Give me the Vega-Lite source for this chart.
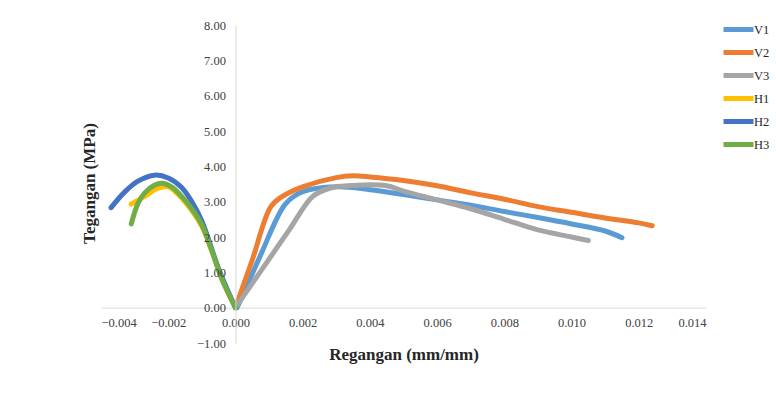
{
  "$schema": "https://vega.github.io/schema/vega-lite/v6.json",
  "width": 605,
  "height": 318,
  "autosize": {"type": "none"},
  "padding": {"left": 101, "top": 25, "right": 70, "bottom": 50},
  "background": "white",
  "config": {
    "view": {"stroke": null},
    "font": "Liberation Serif"
  },
  "data": {
    "values": [
      {"s": "V1", "x": 0.00005, "y": 0},
      {"s": "V1", "x": 0.0008, "y": 1.6},
      {"s": "V1", "x": 0.0012, "y": 2.46},
      {"s": "V1", "x": 0.0015, "y": 2.95},
      {"s": "V1", "x": 0.002, "y": 3.28},
      {"s": "V1", "x": 0.003, "y": 3.42},
      {"s": "V1", "x": 0.004, "y": 3.34},
      {"s": "V1", "x": 0.005, "y": 3.2},
      {"s": "V1", "x": 0.006, "y": 3.05},
      {"s": "V1", "x": 0.007, "y": 2.9},
      {"s": "V1", "x": 0.008, "y": 2.72},
      {"s": "V1", "x": 0.009, "y": 2.55},
      {"s": "V1", "x": 0.010, "y": 2.37},
      {"s": "V1", "x": 0.011, "y": 2.17},
      {"s": "V1", "x": 0.0115, "y": 1.98},
      {"s": "V2", "x": 0, "y": 0},
      {"s": "V2", "x": 0.0005, "y": 1.35},
      {"s": "V2", "x": 0.00105, "y": 2.85},
      {"s": "V2", "x": 0.0014, "y": 3.15},
      {"s": "V2", "x": 0.002, "y": 3.42},
      {"s": "V2", "x": 0.003, "y": 3.68},
      {"s": "V2", "x": 0.0035, "y": 3.73},
      {"s": "V2", "x": 0.004, "y": 3.7},
      {"s": "V2", "x": 0.005, "y": 3.6},
      {"s": "V2", "x": 0.006, "y": 3.45},
      {"s": "V2", "x": 0.007, "y": 3.25},
      {"s": "V2", "x": 0.008, "y": 3.07},
      {"s": "V2", "x": 0.009, "y": 2.86},
      {"s": "V2", "x": 0.010, "y": 2.7},
      {"s": "V2", "x": 0.011, "y": 2.54},
      {"s": "V2", "x": 0.012, "y": 2.4},
      {"s": "V2", "x": 0.0124, "y": 2.32},
      {"s": "V3", "x": 0, "y": 0},
      {"s": "V3", "x": 0.0008, "y": 1.1},
      {"s": "V3", "x": 0.0016, "y": 2.2},
      {"s": "V3", "x": 0.0023, "y": 3.15},
      {"s": "V3", "x": 0.0028, "y": 3.38},
      {"s": "V3", "x": 0.0035, "y": 3.46},
      {"s": "V3", "x": 0.0045, "y": 3.45},
      {"s": "V3", "x": 0.005, "y": 3.3},
      {"s": "V3", "x": 0.006, "y": 3.05},
      {"s": "V3", "x": 0.007, "y": 2.8},
      {"s": "V3", "x": 0.008, "y": 2.5},
      {"s": "V3", "x": 0.009, "y": 2.2},
      {"s": "V3", "x": 0.010, "y": 2.0},
      {"s": "V3", "x": 0.0105, "y": 1.9},
      {"s": "H1", "x": -0.0031, "y": 2.93},
      {"s": "H1", "x": -0.0027, "y": 3.15},
      {"s": "H1", "x": -0.0023, "y": 3.38},
      {"s": "H1", "x": -0.002, "y": 3.42},
      {"s": "H1", "x": -0.0017, "y": 3.2},
      {"s": "H1", "x": -0.0013, "y": 2.75},
      {"s": "H1", "x": -0.001, "y": 2.3},
      {"s": "H1", "x": -0.0007, "y": 1.6},
      {"s": "H1", "x": -0.0004, "y": 0.8},
      {"s": "H1", "x": 0, "y": 0},
      {"s": "H2", "x": -0.0037, "y": 2.83},
      {"s": "H2", "x": -0.0033, "y": 3.27},
      {"s": "H2", "x": -0.0029, "y": 3.58},
      {"s": "H2", "x": -0.0024, "y": 3.75},
      {"s": "H2", "x": -0.002, "y": 3.67},
      {"s": "H2", "x": -0.0016, "y": 3.4},
      {"s": "H2", "x": -0.0013, "y": 3.0},
      {"s": "H2", "x": -0.001, "y": 2.45},
      {"s": "H2", "x": -0.0005, "y": 1.1},
      {"s": "H2", "x": 0, "y": 0},
      {"s": "H3", "x": -0.0031, "y": 2.37},
      {"s": "H3", "x": -0.0029, "y": 2.95},
      {"s": "H3", "x": -0.0027, "y": 3.25},
      {"s": "H3", "x": -0.0024, "y": 3.47},
      {"s": "H3", "x": -0.0022, "y": 3.52},
      {"s": "H3", "x": -0.0019, "y": 3.42},
      {"s": "H3", "x": -0.0016, "y": 3.15},
      {"s": "H3", "x": -0.0013, "y": 2.8},
      {"s": "H3", "x": -0.001, "y": 2.35},
      {"s": "H3", "x": -0.0007, "y": 1.6},
      {"s": "H3", "x": -0.0004, "y": 0.8},
      {"s": "H3", "x": 0, "y": 0}
    ]
  },
  "mark": {"type": "line", "interpolate": "catmull-rom", "strokeWidth": 5, "strokeCap": "round", "strokeJoin": "round"},
  "encoding": {
    "x": {
      "field": "x", "type": "quantitative",
      "scale": {"domain": [-0.004, 0.014], "nice": false, "zero": false},
      "axis": {
        "values": [-0.004, -0.002, 0, 0.002, 0.004, 0.006, 0.008, 0.010, 0.012, 0.014],
        "format": ".3f", "grid": false, "ticks": false,
        "domainColor": "#d9d9d9", "domainWidth": 1,
        "offset": -35.33,
        "labelFont": "Liberation Serif", "labelFontSize": 12.5, "labelColor": "#404040", "labelPadding": 9,
        "title": "Regangan (mm/mm)", "titleFont": "Liberation Serif", "titleFontSize": 17, "titleFontWeight": "bold",
        "titleColor": "#262626", "titleY": 47, "titleBaseline": "middle"
      }
    },
    "y": {
      "field": "y", "type": "quantitative",
      "scale": {"domain": [-1, 8], "nice": false, "zero": false},
      "axis": {
        "values": [-1, 0, 1, 2, 3, 4, 5, 6, 7, 8],
        "format": ".2f", "grid": false, "ticks": false,
        "domainColor": "#d9d9d9", "domainWidth": 1,
        "offset": -134.44, "zindex": 1,
        "labelFont": "Liberation Serif", "labelFontSize": 12.5, "labelColor": "#404040", "labelPadding": 10,
        "title": "Tegangan (MPa)", "titleFont": "Liberation Serif", "titleFontSize": 17, "titleFontWeight": "bold",
        "titleColor": "#262626", "titleX": -146, "titleY": 158, "titleBaseline": "middle", "titleAngle": -90
      }
    },
    "color": {
      "field": "s", "type": "nominal",
      "scale": {"domain": ["V1", "V2", "V3", "H1", "H2", "H3"], "range": ["#5B9BD5", "#ED7D31", "#A5A5A5", "#FFC000", "#4472C4", "#70AD47"]},
      "legend": {
        "title": null, "orient": "none", "legendX": 625, "legendY": -8,
        "symbolType": "M-1.5,0H1.5", "symbolSize": 400, "symbolStrokeWidth": 5,
        "labelFont": "Liberation Serif", "labelFontSize": 12.5, "labelColor": "#262626", "labelOffset": 3,
        "rowPadding": 0, "padding": 0
      }
    },
    "order": {"field": "x", "type": "quantitative"}
  }
}
